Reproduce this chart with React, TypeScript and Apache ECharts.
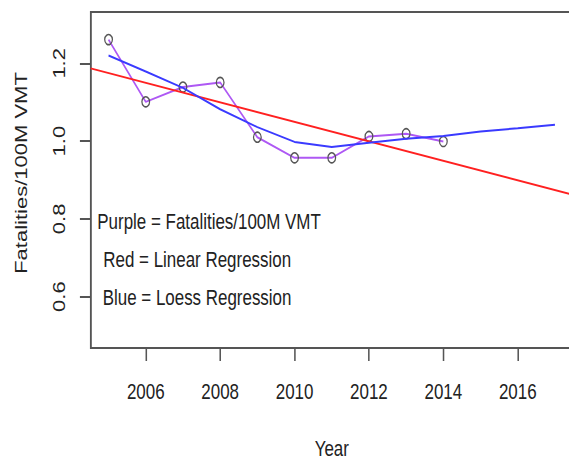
import React, { useEffect, useRef } from "react";
import * as echarts from "echarts";

const years = [2005, 2006, 2007, 2008, 2009, 2010, 2011, 2012, 2013, 2014];
const fatalities = [1.261, 1.101, 1.139, 1.151, 1.01, 0.957, 0.957, 1.012, 1.019, 0.999];

const loessYears = [2005, 2006, 2007, 2008, 2009, 2010, 2011, 2012, 2013, 2014, 2015, 2016, 2017];
const loessValues = [1.22, 1.179, 1.137, 1.082, 1.036, 0.998, 0.985, 0.996, 1.006, 1.013, 1.025, 1.033, 1.042];

const linearYears = [2004.52, 2017.48];
const linearValues = [1.187, 0.862];

const xTicks = [2006, 2008, 2010, 2012, 2014, 2016];
const yTicks = [0.6, 0.8, 1.0, 1.2];

const notes = ["Purple = Fatalities/100M VMT", "Red = Linear Regression", "Blue = Loess Regression"];

const SX = 0.77;
const FONT = "'Liberation Sans', Arial, sans-serif";
const TXT = "#222";

export default function App() {
  const ref = useRef<HTMLDivElement>(null);
  useEffect(() => {
    if (!ref.current) return;
    const chart = echarts.init(ref.current, undefined, { renderer: "svg" });
    chart.setOption({
      animation: false,
      backgroundColor: "#fff",
      grid: {
        left: 90.7 / SX,
        top: 12,
        width: (572.8 - 90.7) / SX,
        height: 339.5,
        show: true,
        borderColor: "#555",
        borderWidth: 2,
      },
      xAxis: {
        type: "value",
        min: 2004.52,
        max: 2017.48,
        name: "Year",
        nameLocation: "middle",
        nameGap: 89,
        nameTextStyle: { fontSize: 22, fontFamily: FONT, color: TXT },
        splitLine: { show: false },
        axisLine: { show: true, lineStyle: { color: "#555", width: 2 } },
        axisTick: { show: true, customValues: xTicks, length: 13, lineStyle: { color: "#555", width: 2 } },
        axisLabel: {
          customValues: xTicks,
          margin: 32,
          fontSize: 22,
          fontFamily: FONT,
          color: TXT,
          formatter: (v: number) => String(v),
        },
      },
      yAxis: {
        type: "value",
        min: 0.468,
        max: 1.332,
        name: "Fatalities/100M VMT",
        nameLocation: "middle",
        nameGap: 80,
        nameRotate: 90,
        nameTextStyle: { fontSize: 22, fontFamily: FONT, color: TXT, padding: [0, 0, 0, 14] },
        splitLine: { show: false },
        axisLine: { show: true, lineStyle: { color: "#555", width: 2 } },
        axisTick: { show: true, customValues: yTicks, length: 14, lineStyle: { color: "#555", width: 2 } },
        axisLabel: {
          customValues: yTicks,
          rotate: 90,
          margin: 30,
          fontSize: 22,
          fontFamily: FONT,
          color: TXT,
          formatter: (v: number) => v.toFixed(1),
        },
      },
      series: [
        {
          type: "line",
          data: years.map((y, i) => [y, fatalities[i]]),
          symbol: "circle",
          symbolSize: 10,
          lineStyle: { color: "#AE58F4", width: 2 },
          itemStyle: { color: "rgba(0,0,0,0)", borderColor: "#555", borderWidth: 1.6 },
          z: 2,
        },
        {
          type: "line",
          data: linearYears.map((y, i) => [y, linearValues[i]]),
          symbol: "none",
          lineStyle: { color: "#ff2020", width: 2 },
          z: 3,
        },
        {
          type: "line",
          data: loessYears.map((y, i) => [y, loessValues[i]]),
          symbol: "none",
          lineStyle: { color: "#3a3aff", width: 2 },
          z: 4,
        },
      ],
      graphic: [
        { type: "text", x: 97.3 / SX, y: 221, style: { text: notes[0], fontSize: 22, fontFamily: FONT, fill: TXT, align: "left", verticalAlign: "middle" } },
        { type: "text", x: 103.3 / SX, y: 259, style: { text: notes[1], fontSize: 22, fontFamily: FONT, fill: TXT, align: "left", verticalAlign: "middle" } },
        { type: "text", x: 102.7 / SX, y: 297, style: { text: notes[2], fontSize: 22, fontFamily: FONT, fill: TXT, align: "left", verticalAlign: "middle" } },
      ],
    });
    return () => chart.dispose();
  }, []);
  return (
    <div style={{ position: "absolute", left: 0, top: 0, width: 569, height: 464, overflow: "hidden", background: "#fff" }}>
      <div
        ref={ref}
        style={{ width: 760, height: 464, transform: `scaleX(${SX})`, transformOrigin: "0 0" }}
      />
    </div>
  );
}
